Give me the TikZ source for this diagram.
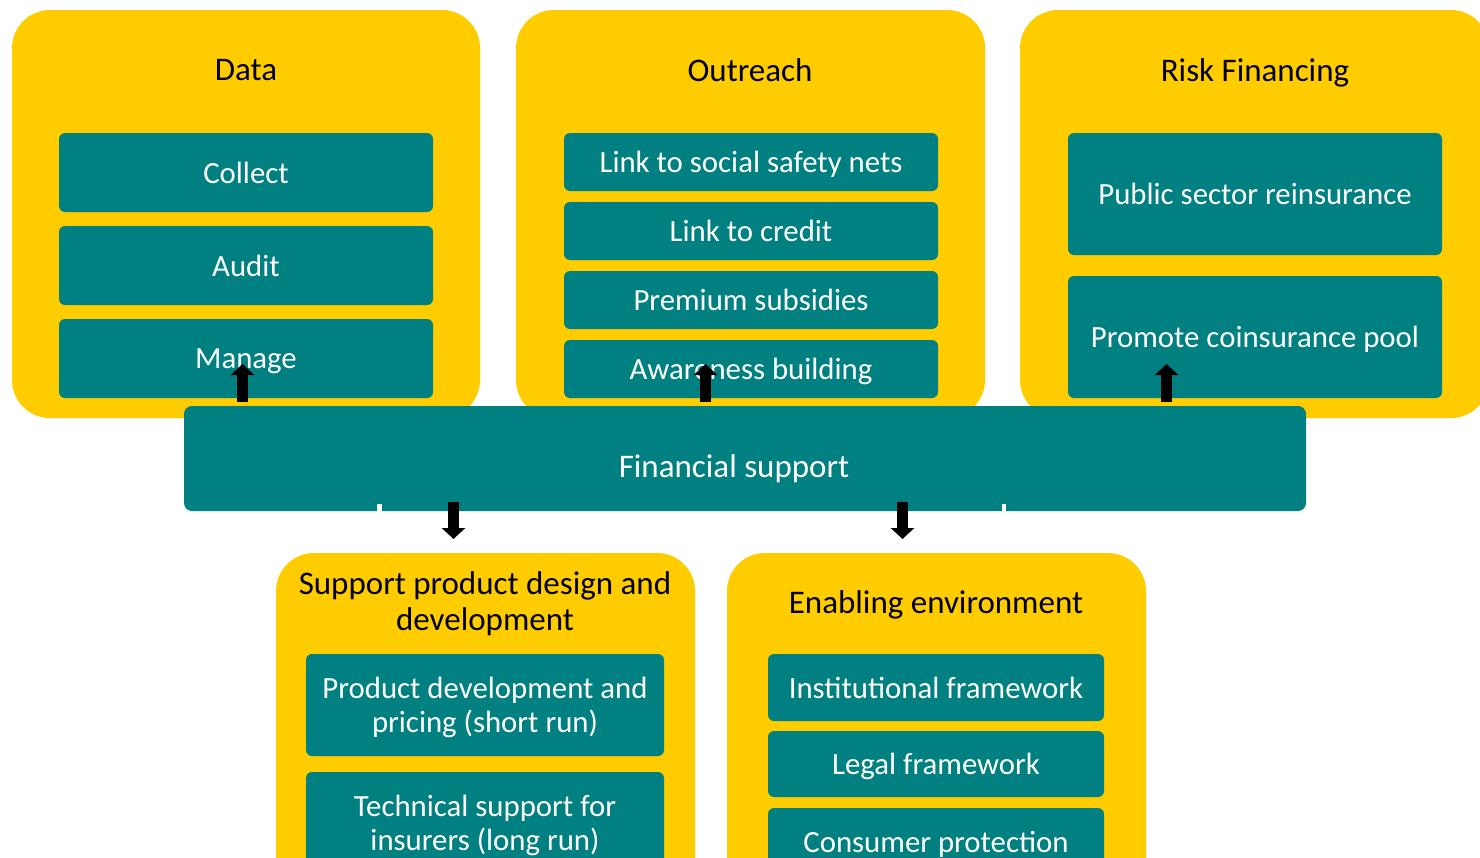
\documentclass[tikz,border=0pt]{standalone}
\usepackage{fontspec}
\setmainfont{Carlito}
\usetikzlibrary{arrows.meta}
\definecolor{ylw}{RGB}{255,204,0}
\definecolor{tealc}{RGB}{0,128,128}
\begin{document}
\begin{tikzpicture}[x=1pt,y=-1pt,
  outer/.style={fill=ylw, rounded corners=38pt, inner sep=0pt, draw=none},
  inner/.style={fill=tealc, rounded corners=6pt, inner sep=0pt, draw=none, text=white,
    font=\fontsize{30.8}{34}\selectfont, align=center, text depth=0pt},
  title/.style={text=black, font=\fontsize{33}{36}\selectfont, align=center, inner sep=0pt, text depth=0pt},
  blockup/.style={line width=11pt, black, -{Triangle[width=23pt,length=11pt]}}
]
\useasboundingbox (0,0) rectangle (1480,857);
\clip (0,0) rectangle (1480,857);
\fill[white] (0,0) rectangle (1480,857);
% outer containers
\node[outer, minimum width=468, minimum height=408] (data) at (246,214) {};
\node[outer, minimum width=469, minimum height=408] (outr) at (750.5,214) {};
\node[outer, minimum width=469, minimum height=408] (risk) at (1254.5,214) {};
\node[outer, minimum width=419, minimum height=352] (supp) at (485.5,729) {};
\node[outer, minimum width=419, minimum height=352] (enab) at (936.5,729) {};
% titles
\node[title] (datat) at (246,70) {Data};
\node[title] (outrt) at (750,70) {Outreach};
\node[title] (riskt) at (1255,70) {Risk Financing};
\node[title] (suppt) at (485,601) {Support product design and\\development};
\node[title] (enabt) at (936,602) {Enabling environment};
% data items
\node[inner, minimum width=374, minimum height=79] (collect) at (246,172.5) {Collect};
\node[inner, minimum width=374, minimum height=79] (audit) at (246,265.5) {Audit};
\node[inner, minimum width=374, minimum height=79] (manage) at (246,358.5) {Manage};
% outreach items
\node[inner, minimum width=374, minimum height=58] (link1) at (751,162) {Link to social safety nets};
\node[inner, minimum width=374, minimum height=58] (link2) at (751,231) {Link to credit};
\node[inner, minimum width=374, minimum height=58] (prem) at (751,300) {Premium subsidies};
\node[inner, minimum width=374, minimum height=58] (aware) at (751,369) {Awareness building};
% risk items
\node[inner, minimum width=374, minimum height=122] (pub) at (1255,194) {Public sector reinsurance};
\node[inner, minimum width=374, minimum height=122] (coins) at (1255,337) {Promote coinsurance pool};
% financial support
\node[inner, rounded corners=8pt, minimum width=1122, minimum height=105] (fs) at (745,458.5) {};
\node[inner, fill=none, font=\fontsize{33}{36}\selectfont] (fslabel) at (734,466) {Financial support};
\fill[white] (377,504) rectangle (382,511.5);
\fill[white] (1002,504) rectangle (1006,511.5);
% support items
\node[inner, minimum width=358, minimum height=102] (prod) at (485,705) {Product development and\\pricing (short run)};
\node[inner, minimum width=358, minimum height=102] (tech) at (485,823) {Technical support for\\insurers (long run)};
% enabling items
\node[inner, minimum width=336, minimum height=67] (inst) at (936,687.5) {Institutional framework};
\node[inner, minimum width=336, minimum height=66] (legal) at (936,764) {Legal framework};
\node[inner, minimum width=336, minimum height=67] (cons) at (936,841.5) {Consumer protection};
% arrows
\coordinate (u1s) at (242.5,402); \coordinate (u1e) at (242.5,364);
\coordinate (u2s) at (705.5,402); \coordinate (u2e) at (705.5,364);
\coordinate (u3s) at (1166.5,402); \coordinate (u3e) at (1166.5,364);
\coordinate (d1s) at (453.5,502); \coordinate (d1e) at (453.5,539);
\coordinate (d2s) at (902.5,502); \coordinate (d2e) at (902.5,539);
\draw[blockup] (u1s) -- (u1e);
\draw[blockup] (u2s) -- (u2e);
\draw[blockup] (u3s) -- (u3e);
\draw[blockup] (d1s) -- (d1e);
\draw[blockup] (d2s) -- (d2e);
\end{tikzpicture}
\end{document}
